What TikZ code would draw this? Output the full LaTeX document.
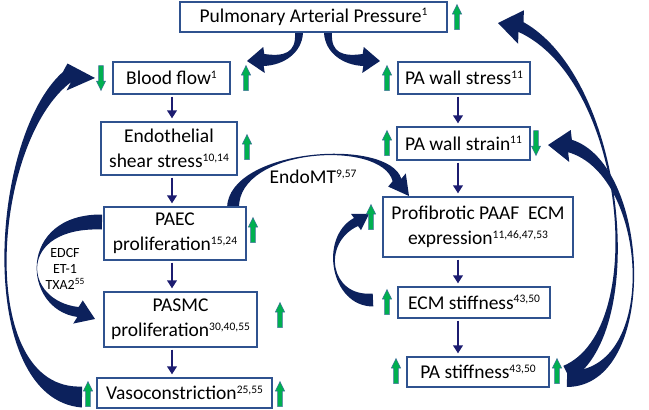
\documentclass[tikz,border=0pt]{standalone}
\usepackage{fontspec}
\setmainfont{Carlito}
\usetikzlibrary{calc,arrows.meta}
\definecolor{boxline}{RGB}{47,82,143}
\definecolor{bignavy}{RGB}{12,33,92}
\definecolor{smallnavy}{RGB}{28,28,112}
\definecolor{grn}{RGB}{0,176,80}
\definecolor{grnline}{RGB}{65,113,156}
\newcommand{\sups}[1]{\raisebox{6.5pt}{\fontsize{11.5}{12}\selectfont #1}}
\newcommand{\ssups}[1]{\raisebox{5pt}{\fontsize{9.5}{10}\selectfont #1}}
% tail, c1, c2, base, tip, tail half width, base half width, head half width, control shift factor
\newcommand{\carrow}[9]{%
 \path (#1) coordinate (cT) (#2) coordinate (cA) (#3) coordinate (cB) (#4) coordinate (cE) (#5) coordinate (cP);
 \path ($(cT)!#6pt!90:(cA)$) coordinate (tl) ($(cT)!#6pt!-90:(cA)$) coordinate (tr)
       ($(cE)!#7pt!-90:(cB)$) coordinate (bl) ($(cE)!#7pt!90:(cB)$) coordinate (br)
       ($(cE)!#8pt!90:(cP)$) coordinate (hl) ($(cE)!#8pt!-90:(cP)$) coordinate (hr);
 \fill[bignavy] (tl) .. controls ($(cA)+#9*(tl)-#9*(cT)$) and ($(cB)+#9*(bl)-#9*(cE)$) .. (bl)
   -- (hl) -- (cP) -- (hr) -- (br)
   .. controls ($(cB)+#9*(br)-#9*(cE)$) and ($(cA)+#9*(tr)-#9*(cT)$) .. (tr) -- cycle;
}
\newcommand{\bx}[6]{%
 \pgfmathsetmacro\bxw{#4-#2}\pgfmathsetmacro\bxh{#5-#3}%
 \pgfmathsetmacro\bxx{(#2+#4)/2}\pgfmathsetmacro\bxy{(#3+#5)/2}%
 \node[box, minimum width=\bxw pt, minimum height=\bxh pt] (#1) at (\bxx,\bxy) {#6};}
\begin{document}
\begin{tikzpicture}[x=1pt,y=-1pt,
  box/.style={draw=boxline, line width=1.2pt, fill=white, inner sep=0pt, align=center,
              font=\fontsize{19.5}{25}\selectfont},
  flow/.style={draw=smallnavy, line width=2.2pt, -{Triangle[width=9.5pt,length=8pt]},
               shorten <=2pt, shorten >=3pt},
  lbl/.style={inner sep=0pt, align=center},
  gup/.pic={\filldraw[fill=grn, draw=grnline, line width=0.5pt]
     (0,-12.5) -- (4.6,-3) -- (2.4,-3) -- (2.4,12.5) -- (-2.4,12.5) -- (-2.4,-3) -- (-4.6,-3) -- cycle;},
  gdown/.pic={\filldraw[fill=grn, draw=grnline, line width=0.5pt]
     (0,12.5) -- (4.6,3) -- (2.4,3) -- (2.4,-12.5) -- (-2.4,-12.5) -- (-2.4,3) -- (-4.6,3) -- cycle;}]
\useasboundingbox (0,0) rectangle (649,410);

% big curved arrows
\carrow{299,33}{299,53}{284,61}{264,60}{247,61}{4}{6}{13}{0.7}
\carrow{328,33}{328,53}{343,61}{363,60}{380,61}{4}{6}{13}{0.7}
\carrow{82,397}{-25,395}{-10,140}{67,77}{95,78}{10.5}{6.5}{13.5}{0.35}
\carrow{567,373}{650,330}{625,80}{521,27}{498,23}{8}{5.5}{17}{0.1}
\carrow{567,379}{660,380}{650,170}{570,146}{548,145}{8}{6.5}{16}{0.8}
\carrow{233,208}{233,148}{385,138}{397,180}{409,196}{6}{4.5}{11}{0.8}
\carrow{102,222}{17,220}{22,305}{78,312}{95,319}{7.5}{5}{12.5}{0.85}
\carrow{373,300}{330,302}{320,240}{356,222}{369,214}{6.5}{4.5}{9.5}{0.7}

% boxes
\bx{pap}{180}{2}{447}{32}{Pulmonary Arterial Pressure\sups{1}}
\bx{blood}{113}{62}{230}{94}{Blood flow\sups{1}}
\bx{stress}{398}{62}{530}{94}{PA wall stress\sups{11}}
\bx{endo}{101}{122}{237}{175}{Endothelial\\shear stress\sups{10,14}}
\bx{strain}{397}{127}{530}{160}{PA wall strain\sups{11}}
\bx{paec}{104}{207}{246}{260}{PAEC\\proliferation\sups{15,24}}
\bx{profib}{383}{197}{573}{257}{Profibrotic PAAF\ \ ECM\\expression\sups{11,46,47,53}}
\bx{pasmc}{104}{292}{257}{347}{PASMC\\proliferation\sups{30,40,55}}
\bx{ecm}{398}{287}{550}{318}{ECM stiffness\sups{43,50}}
\bx{vaso}{97}{378}{272}{408}{Vasoconstriction\sups{25,55}}
\bx{pastiff}{407}{357}{549}{387}{PA stiffness\sups{43,50}}

% labels
\node[lbl, font=\fontsize{19.5}{24}\selectfont] (endomt) at (313,177) {EndoMT\sups{9,57}};
\node[lbl, font=\fontsize{14}{16}\selectfont] (edcf) at (65,269) {EDCF\\ET-1\\TXA2\ssups{55}};

% straight arrows
\coordinate (cl) at (172,0);
\coordinate (cr) at (458,0);
\draw[flow] (blood.south -| cl) -- (endo.north -| cl);
\draw[flow] (endo.south -| cl) -- (paec.north -| cl);
\draw[flow] (paec.south -| cl) -- (pasmc.north -| cl);
\draw[flow] (pasmc.south -| cl) -- (vaso.north -| cl);
\draw[flow] (stress.south -| cr) -- (strain.north -| cr);
\draw[flow] (strain.south -| cr) -- (profib.north -| cr);
\draw[flow] (profib.south -| cr) -- (ecm.north -| cr);
\draw[flow] (ecm.south -| cr) -- (pastiff.north -| cr);

% green indicators
\pic at (457,17) {gup};
\pic at (101,78) {gdown};
\pic at (246,78) {gup};
\pic at (387,78) {gup};
\pic at (247,147) {gup};
\pic at (387,143) {gup};
\pic at (536,143) {gdown};
\pic at (253,230) {gup};
\pic at (371,217) {gup};
\pic at (280,315) {gup};
\pic at (387,302) {gup};
\pic at (88,394) {gup};
\pic at (280,394) {gup};
\pic at (396,371) {gup};
\pic at (557,371) {gup};
\end{tikzpicture}
\end{document}
